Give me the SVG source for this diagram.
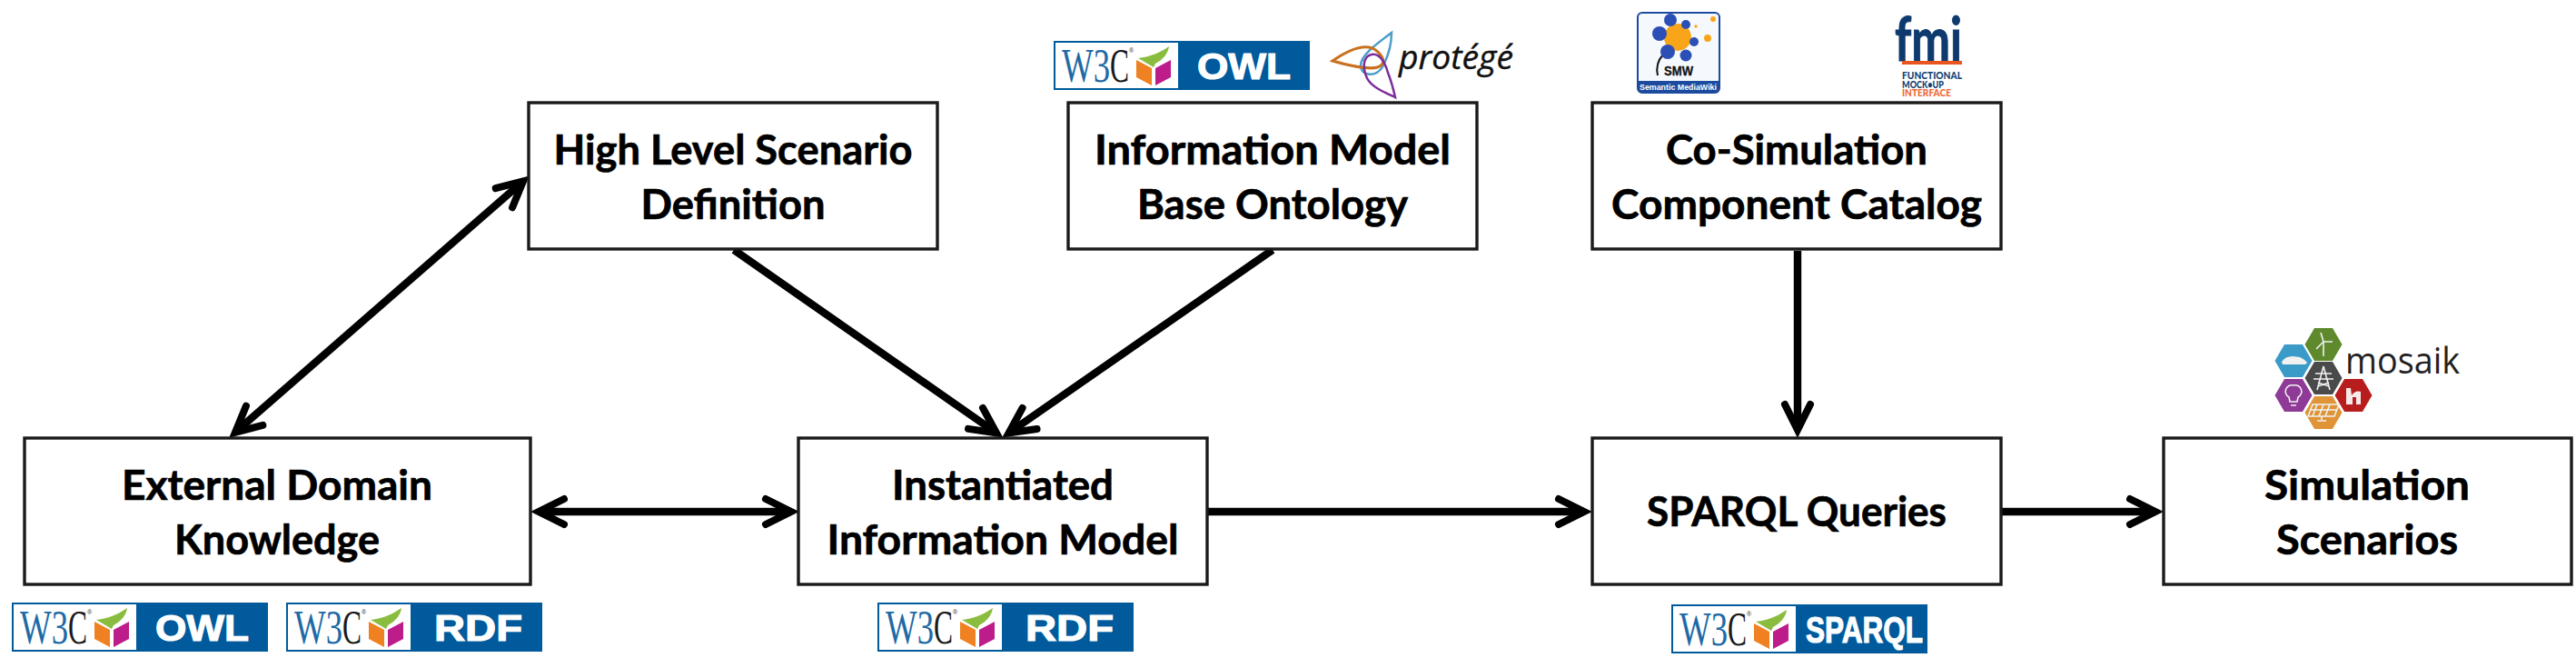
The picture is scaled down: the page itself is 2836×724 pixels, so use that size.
<svg xmlns="http://www.w3.org/2000/svg" width="2836" height="724" viewBox="0 0 2836 724">
<style>
.box{fill:#fff;stroke:#1a1a1a;stroke-width:3.4}
.lbl{font-family:"Lato","Liberation Sans",sans-serif;font-weight:700;font-size:45px;fill:#000;stroke:#000;stroke-width:.7;text-anchor:middle}
.cn{fill:none;stroke:#000;stroke-width:8.4;marker-end:url(#ah)}
.both{marker-start:url(#ah)}
.w3c{font-family:"Liberation Serif",serif;font-size:53px;font-weight:400}
.bt{font-family:"Liberation Sans",sans-serif;font-weight:700;fill:#fff;stroke:#fff;stroke-width:1.2}
.ic{fill:none;stroke:#f1f1f1;stroke-width:1.6}
</style>
<defs>
<marker id="ah" markerUnits="userSpaceOnUse" markerWidth="50" markerHeight="50" refX="40" refY="25" orient="auto-start-reverse" viewBox="0 0 50 50">
<path d="M12,11 L40,25 L12,39" fill="none" stroke="#000" stroke-width="8" stroke-linecap="round" stroke-linejoin="miter" stroke-miterlimit="6"/>
</marker>
<g id="badge">
<rect x="0" y="0" width="282" height="54" fill="#005a9c"/>
<rect x="2" y="2" width="135" height="50" fill="#fff"/>
<text class="w3c" x="9" y="45" fill="#1e6aa6" textLength="53" lengthAdjust="spacingAndGlyphs">W3</text>
<text class="w3c" x="62" y="45" fill="#1a1a1a" textLength="21" lengthAdjust="spacingAndGlyphs">C</text>
<text x="83" y="13" font-family="Liberation Sans,sans-serif" font-size="7" fill="#333">®</text>
<path d="M93,19 C103,18 114,15 127,6 C126,14 120,21 112,25 L110,29 Z" fill="#8abd3f"/>
<path d="M91,21 L108,30 L108,49 L91,40 Z" fill="#ef8122"/>
<path d="M112,30 L129,21 L129,40 L112,49 Z" fill="#bd1c8b"/>
</g>
</defs>
<rect width="2836" height="724" fill="#fff"/>

<g id="connectors">
<path class="cn both" d="M259,475.7 L576,199.3"/>
<path class="cn" d="M808,275 L1097,476.4"/>
<path class="cn" d="M1401,275 L1110.6,476.4"/>
<path class="cn" d="M1979,276 L1979,473"/>
<path class="cn both" d="M593,563 L871,563"/>
<path class="cn" d="M1330,563 L1744,563"/>
<path class="cn" d="M2204,563 L2373,563"/>
</g>

<g id="node-high-level"><rect class="box" x="582" y="113" width="450" height="161"/>
<text class="lbl" x="807" y="181" textLength="395" lengthAdjust="spacingAndGlyphs">High Level Scenario</text>
<text class="lbl" x="807" y="241" textLength="203" lengthAdjust="spacingAndGlyphs">Definition</text></g>
<g id="node-info-base"><rect class="box" x="1176" y="113" width="450" height="161"/>
<text class="lbl" x="1401" y="181" textLength="392" lengthAdjust="spacingAndGlyphs">Information Model</text>
<text class="lbl" x="1401" y="241" textLength="298" lengthAdjust="spacingAndGlyphs">Base Ontology</text></g>
<g id="node-cosim"><rect class="box" x="1753" y="113" width="450" height="161"/>
<text class="lbl" x="1978" y="181" textLength="288" lengthAdjust="spacingAndGlyphs">Co-Simulation</text>
<text class="lbl" x="1978" y="241" textLength="408" lengthAdjust="spacingAndGlyphs">Component Catalog</text></g>
<g id="node-external"><rect class="box" x="27" y="482" width="557" height="161"/>
<text class="lbl" x="305" y="550" textLength="342" lengthAdjust="spacingAndGlyphs">External Domain</text>
<text class="lbl" x="305" y="610" textLength="226" lengthAdjust="spacingAndGlyphs">Knowledge</text></g>
<g id="node-instantiated"><rect class="box" x="879" y="482" width="450" height="161"/>
<text class="lbl" x="1104" y="550" textLength="244" lengthAdjust="spacingAndGlyphs">Instantiated</text>
<text class="lbl" x="1104" y="610" textLength="387" lengthAdjust="spacingAndGlyphs">Information Model</text></g>
<g id="node-sparql"><rect class="box" x="1753" y="482" width="450" height="161"/>
<text class="lbl" x="1978" y="579" textLength="330" lengthAdjust="spacingAndGlyphs">SPARQL Queries</text></g>
<g id="node-simulation"><rect class="box" x="2382" y="482" width="449" height="161"/>
<text class="lbl" x="2606" y="550" textLength="226" lengthAdjust="spacingAndGlyphs">Simulation</text>
<text class="lbl" x="2606" y="610" textLength="200" lengthAdjust="spacingAndGlyphs">Scenarios</text></g>

<g id="logo-owl-top" transform="translate(1160,45)"><use href="#badge"/><text class="bt" x="158" y="42" font-size="41" textLength="103" lengthAdjust="spacingAndGlyphs">OWL</text></g>
<g id="logo-owl-left" transform="translate(13,663)"><use href="#badge"/><text class="bt" x="158" y="42" font-size="41" textLength="103" lengthAdjust="spacingAndGlyphs">OWL</text></g>
<g id="logo-rdf-left" transform="translate(315,663)"><use href="#badge"/><text class="bt" x="163" y="42" font-size="41" textLength="97" lengthAdjust="spacingAndGlyphs">RDF</text></g>
<g id="logo-rdf-mid" transform="translate(966,663)"><use href="#badge"/><text class="bt" x="163" y="42" font-size="41" textLength="97" lengthAdjust="spacingAndGlyphs">RDF</text></g>
<g id="logo-sparql" transform="translate(1840,665)"><use href="#badge"/><text class="bt" x="148" y="42" font-size="41" textLength="129" lengthAdjust="spacingAndGlyphs">SPARQL</text></g>

<g id="logo-protege">
<path d="M1532,36 C1520,45 1498,60 1498,72 C1498,84 1516,86 1523,72 C1528,62 1532,48 1532,36Z" fill="none" stroke="#4b9cc9" stroke-width="2.5"/>
<path d="M1467,67 C1480,58 1495,50 1507,52 C1518,54 1525,66 1522,70 C1518,78 1500,76 1467,67Z" fill="none" stroke="#c8711f" stroke-width="3"/>
<path d="M1536,107 C1525,102 1510,96 1505,86 C1500,76 1500,62 1510,60 C1520,58 1526,72 1528,80 C1532,90 1534,98 1536,107Z" fill="none" stroke="#7c2d9c" stroke-width="2.5"/>
<text x="1540" y="76" font-family="Open Sans,sans-serif" font-style="italic" font-size="36" fill="#111" stroke="#111" stroke-width=".4" textLength="126" lengthAdjust="spacingAndGlyphs">protégé</text>
</g>

<g id="logo-smw">
<rect x="1803" y="14" width="90" height="88" rx="5" fill="#f5f9fd" stroke="#1b4a9e" stroke-width="2"/>
<path d="M1803,89 H1893 V97 a5,5 0 0 1 -5,5 H1808 a5,5 0 0 1 -5,-5 Z" fill="#1b4a9e"/>
<path d="M1831,60 Q1822,70 1825,83" fill="none" stroke="#111" stroke-width="2"/>
<circle cx="1847" cy="41" r="15" fill="#f9a51a"/>
<g fill="#2c4fb5"><circle cx="1839" cy="22" r="7"/><circle cx="1827" cy="37" r="8"/><circle cx="1856" cy="27" r="5"/><circle cx="1865" cy="46" r="5"/><circle cx="1836" cy="57" r="8"/><circle cx="1856" cy="61" r="6.5"/></g>
<g fill="#f9a51a"><circle cx="1886" cy="21" r="3"/><circle cx="1867" cy="29" r="1.7"/><circle cx="1880" cy="42" r="4"/></g>
<text x="1832" y="83" font-family="Liberation Sans,sans-serif" font-weight="700" font-size="14" fill="#111" stroke="#111" stroke-width=".3" textLength="32" lengthAdjust="spacingAndGlyphs">SMW</text>
<text x="1805" y="99" font-family="Liberation Sans,sans-serif" font-weight="700" font-size="8.5" fill="#fff" textLength="85" lengthAdjust="spacingAndGlyphs">Semantic MediaWiki</text>
</g>

<g id="logo-fmi">
<text x="2086" y="67" font-family="Lato,sans-serif" font-weight="700" font-size="66" fill="#0e3a6e" stroke="#0e3a6e" stroke-width="1" textLength="74" lengthAdjust="spacingAndGlyphs">fmi</text>
<rect x="2094" y="67" width="66" height="4" fill="#e8551f"/>
<text x="2094" y="87" font-family="Lato,sans-serif" font-weight="900" font-size="10.5" fill="#123f73" textLength="66" lengthAdjust="spacingAndGlyphs">FUNCTIONAL</text>
<text x="2094" y="97" font-family="Lato,sans-serif" font-weight="900" font-size="10.5" fill="#123f73" textLength="46" lengthAdjust="spacingAndGlyphs">MOCK•UP</text>
<text x="2094" y="106" font-family="Lato,sans-serif" font-weight="900" font-size="10.5" fill="#ee6a36" textLength="54" lengthAdjust="spacingAndGlyphs">INTERFACE</text>
</g>

<g id="logo-mosaik">
<path transform="translate(2558,379)" d="M-20.5,0 L-10,-18 H10 L20.5,0 L10,18 H-10 Z" fill="#5e8a2d"/>
<path transform="translate(2525,397)" d="M-20.5,0 L-10,-18 H10 L20.5,0 L10,18 H-10 Z" fill="#3a9bc8"/>
<path transform="translate(2558,416)" d="M-20.5,0 L-10,-18 H10 L20.5,0 L10,18 H-10 Z" fill="#4a4a4a"/>
<path transform="translate(2525,435)" d="M-20.5,0 L-10,-18 H10 L20.5,0 L10,18 H-10 Z" fill="#8e3a96"/>
<path transform="translate(2591,435)" d="M-20.5,0 L-10,-18 H10 L20.5,0 L10,18 H-10 Z" fill="#b81d1d"/>
<path transform="translate(2558,454)" d="M-20.5,0 L-10,-18 H10 L20.5,0 L10,18 H-10 Z" fill="#de9437"/>
<path class="ic" d="M2558,392 V376 M2558,376 L2555,366 M2558,376 L2568,376 M2558,376 L2550,384" stroke-width="2"/>
<path d="M2512,398 Q2516,392 2524,392 L2532,393 Q2538,396 2540,399 L2538,401 H2513 Z" fill="#f1f1f1"/>
<path class="ic" d="M2558,403 L2551,429 M2558,403 L2565,429 M2549,411 H2567 M2547,417 H2569 M2552,425 L2564,421 M2564,425 L2552,421"/>
<path class="ic" d="M2525,424 a7,7 0 0 1 5,13 l-1,5 h-8 l-1,-5 a7,7 0 0 1 5,-13 M2522,446 h6"/>
<path d="M2583,427 h5 l1,8 q4,-6 10,-4 v14 h-5 v-8 h-4 v8 h-7 Z" fill="#f6e9e9"/>
<path class="ic" d="M2546,445 H2575 L2570,458 H2541 Z M2551,445 L2546,458 M2558,445 L2553,458 M2565,445 L2560,458 M2544,451 H2572 M2556,458 V462 M2551,463 H2561"/>
<text x="2582" y="411" font-family="Open Sans,sans-serif" font-size="40" fill="#222" textLength="126" lengthAdjust="spacingAndGlyphs">mosaik</text>
</g>
</svg>
